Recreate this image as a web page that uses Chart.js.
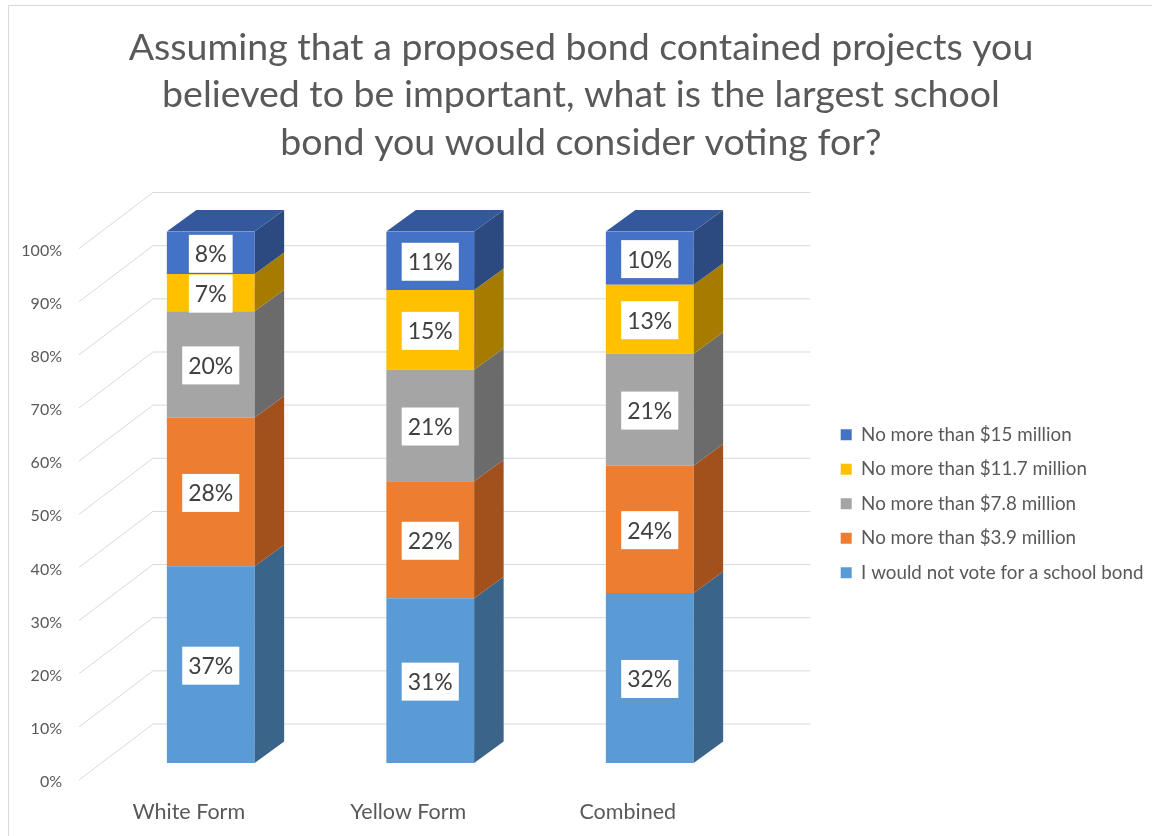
<!DOCTYPE html>
<html>
<head>
<meta charset="utf-8">
<script src="https://cdn.jsdelivr.net/npm/chart.js@4.4.1/dist/chart.umd.min.js"></script>
<style>
html, body { margin: 0; padding: 0; background: #fff; }
#wrap { position: relative; width: 1152px; height: 836px; overflow: hidden; }
#frame { position: absolute; left: 8px; top: 5px; width: 1160px; height: 850px; border: 1px solid #d9d9d9; }
#chart { position: absolute; left: 0; top: 0; }
</style>
</head>
<body>
<div id="wrap">
  <div id="frame"></div>
  <canvas id="chart" width="1152" height="836"></canvas>
</div>
<script>
// values (percent of respondents)
var forms = ["White Form", "Yellow Form", "Combined"];
var noVote = [37, 31, 32];
var upTo39 = [28, 22, 24];
var upTo78 = [20, 21, 21];
var upTo117 = [7, 15, 13];
var upTo15 = [8, 11, 10];
var seriesNames = ["I would not vote for a school bond", "No more than $3.9 million",
    "No more than $7.8 million", "No more than $11.7 million", "No more than $15 million"];
var titleLines = ["Assuming that a proposed bond contained projects you",
    "believed to be important, what is the largest school",
    "bond you would consider voting for?"];

var frontColors = ["#5b9bd5", "#ed7d31", "#a5a5a5", "#ffc000", "#4472c4"];
var sideColors = ["#3a6489", "#a2511d", "#6b6b6b", "#a67c00", "#2c4a80"];
var topColor = "#33599c";

var font = "Lato, 'Open Sans', sans-serif";
var textColor = "#595959";
// 3d offsets
var depthX = 29.5, depthY = -21.5;

var threeD = {
    id: 'threeD',
    beforeDatasetsDraw: function (chart) {
        var ctx = chart.ctx;
        var y = chart.scales.y;
        var area = chart.chartArea;
        ctx.save();
        ctx.strokeStyle = "#d9d9d9";
        ctx.lineWidth = 1;
        for (var v = 0; v <= 100; v += 10) {
            var py = y.getPixelForValue(v);
            ctx.beginPath();
            ctx.moveTo(area.left - 22, py + 17);
            ctx.lineTo(area.left + 52, py - 39);
            ctx.lineTo(area.right + 51, py - 39);
            ctx.stroke();
        }
        ctx.restore();
    },
    afterDatasetsDraw: function (chart) {
        var ctx = chart.ctx;
        var n = chart.data.datasets.length;
        ctx.save();
        for (var i = 0; i < n; i++) {
            var meta = chart.getDatasetMeta(i);
            meta.data.forEach(function (bar) {
                var xl = bar.x - bar.width / 2, xr = bar.x + bar.width / 2;
                var top = Math.min(bar.y, bar.base), bot = Math.max(bar.y, bar.base);
                ctx.fillStyle = sideColors[i];
                ctx.beginPath();
                ctx.moveTo(xr, top);
                ctx.lineTo(xr + depthX, top + depthY);
                ctx.lineTo(xr + depthX, bot + depthY);
                ctx.lineTo(xr, bot);
                ctx.closePath();
                ctx.fill();
                if (i === n - 1) {
                    ctx.fillStyle = topColor;
                    ctx.beginPath();
                    ctx.moveTo(xl, top);
                    ctx.lineTo(xl + depthX, top + depthY);
                    ctx.lineTo(xr + depthX, top + depthY);
                    ctx.lineTo(xr, top);
                    ctx.closePath();
                    ctx.fill();
                }
            });
        }
        // value labels in white boxes
        ctx.font = "23px " + font;
        ctx.textAlign = "center";
        ctx.textBaseline = "middle";
        for (var j = 0; j < n; j++) {
            var m = chart.getDatasetMeta(j);
            var vals = chart.data.datasets[j].data;
            m.data.forEach(function (bar, k) {
                var txt = vals[k] + "%";
                var w = ctx.measureText(txt).width + 12;
                var cy = (bar.y + bar.base) / 2 + 1;
                ctx.fillStyle = "#fff";
                ctx.fillRect(bar.x - w / 2, cy - 19, w, 38);
                ctx.fillStyle = "#404040";
                ctx.fillText(txt, bar.x, cy + 1);
            });
        }
        ctx.restore();
    }
};

var series = [noVote, upTo39, upTo78, upTo117, upTo15];
var datasets = series.map(function (d, i) {
    return {
        label: seriesNames[i],
        data: d,
        backgroundColor: frontColors[i],
        borderWidth: 0,
        barPercentage: 0.4,
        categoryPercentage: 1
    };
});

var chart = new Chart(document.getElementById("chart"), {
    type: 'bar',
    data: { labels: forms, datasets: datasets },
    plugins: [threeD],
    options: {
        responsive: false,
        animation: false,
        layout: { padding: { left: 10, right: 0, top: 0, bottom: 12 } },
        plugins: {
            title: {
                display: true,
                text: titleLines,
                color: textColor,
                font: { family: font, size: 37.5, weight: 'normal', lineHeight: 1.267 },
                padding: { top: 24, bottom: 65 }
            },
            legend: {
                position: 'right',
                fullSize: false,
                reverse: true,
                maxWidth: 327,
                title: { display: true, text: '', font: { size: 1, lineHeight: 1 }, padding: 6 },
                labels: {
                    boxWidth: 11,
                    boxHeight: 11,
                    padding: 15.7,
                    color: textColor,
                    font: { family: font, size: 18.8 }
                }
            },
            tooltip: { enabled: false }
        },
        scales: {
            x: {
                stacked: true,
                grid: { display: false, drawTicks: false },
                border: { display: false },
                ticks: {
                    color: textColor,
                    font: { family: font, size: 21.5 },
                    labelOffset: -22,
                    padding: 36
                },
                afterFit: function (s) { s.height = 61; }
            },
            y: {
                stacked: true,
                min: 0,
                max: 100,
                grid: { display: false, drawTicks: false },
                border: { display: false },
                ticks: {
                    stepSize: 10,
                    color: textColor,
                    font: { family: font, size: 16 },
                    labelOffset: 19,
                    padding: 39,
                    callback: function (v) { return v + "%"; }
                },
                afterFit: function (s) { s.width = 91; }
            },
            spacer: {
                type: 'linear',
                position: 'right',
                grid: { display: false, drawTicks: false },
                border: { display: false },
                ticks: { display: false },
                afterFit: function (s) { s.width = 65.5; }
            }
        }
    }
});
</script>
</body>
</html>
